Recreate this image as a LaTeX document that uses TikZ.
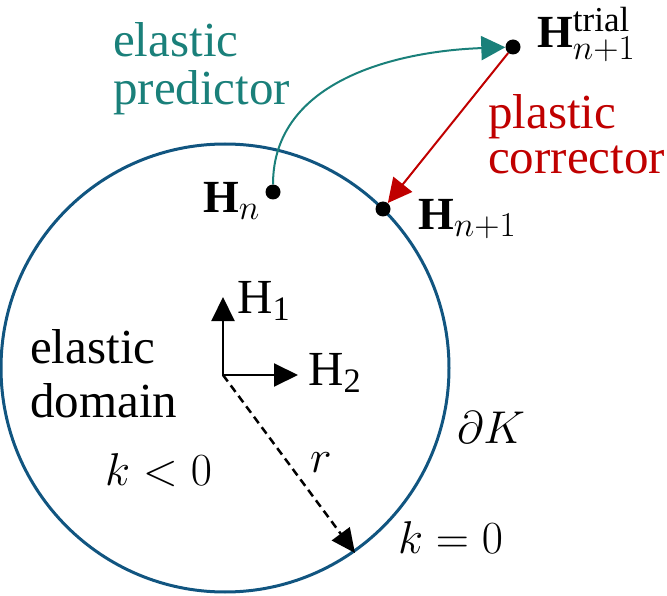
\RequirePackage{fix-cm}
\documentclass[tikz,border=0pt]{standalone}
\usepackage{fontspec}
\setmainfont{Liberation Serif}
\usepackage{amsmath}
\DeclareMathSizes{46}{46}{35}{26}
\usetikzlibrary{arrows.meta}
\definecolor{circblue}{RGB}{17,85,128}
\definecolor{tealc}{RGB}{26,128,122}
\definecolor{redc}{RGB}{192,0,0}
\begin{document}
\begin{tikzpicture}[x=1pt,y=-1pt,
  lbl/.style={inner sep=0pt, anchor=base west, font=\fontsize{49}{48}\selectfont, align=left},
  mlbl/.style={inner sep=0pt, anchor=base west, font=\fontsize{46}{50}\selectfont},
  dot/.style={circle, fill=black, inner sep=0pt, minimum size=15pt},
  tri/.style={-{Triangle[length=24pt,width=24pt]}},
  axis/.style={line width=2pt, {Triangle[length=24pt,width=23pt]}-{Triangle[length=24pt,width=23pt]}}
]
\useasboundingbox (0,0) rectangle (667,596);
\draw[circblue, line width=3pt] (225,368) circle[radius=224pt];

\node[dot] (hn) at (273,192) {};
\node[dot] (hnp) at (383,209) {};
\node[dot] (trial) at (513,47) {};

\draw[tealc, line width=2pt, tri] (hn) to[out=90, in=182] (trial);
\draw[redc, line width=2pt, tri] (trial) -- (hnp);

\coordinate (o) at (223,375);
\coordinate (a1) at (223,297);
\coordinate (a2) at (298,375);
\coordinate (rend) at (355,553);
\draw[axis] (a1) -- (o) -- (a2);
\draw[line width=2.5pt, dash pattern=on 8pt off 5pt, -{Triangle[length=24pt,width=22pt]}] (o) -- (rend);

\node[lbl, text=tealc] (ep) at (113,105) {elastic\\predictor};
\node[lbl, text=redc, font=\fontsize{49}{45}\selectfont] (pc) at (488,174) {plastic\\corrector};
\node[lbl, font=\fontsize{49}{54}\selectfont] (ed) at (30,417) {elastic\\domain};
\node[lbl] (h1) at (237,313) {H$_{\text{1}}$};
\node[lbl] (h2) at (308,385) {H$_{\text{2}}$};
\node[mlbl] (r) at (310,472) {$r$};
\node[mlbl] (dk) at (457,443) {$\partial K$};
\node[mlbl] (kl) at (105,485) {$k<0$};
\node[mlbl] (ke) at (398,553) {$k=0$};
\node[mlbl] (lhn) at (203,213) {$\textbf{H}_n$};
\node[mlbl] (lhnp) at (418,230) {$\textbf{H}_{n+1}$};
\node[mlbl] (lht) at (537,48) {$\textbf{H}_{n+1}^{\text{trial}}$};
\end{tikzpicture}
\end{document}
